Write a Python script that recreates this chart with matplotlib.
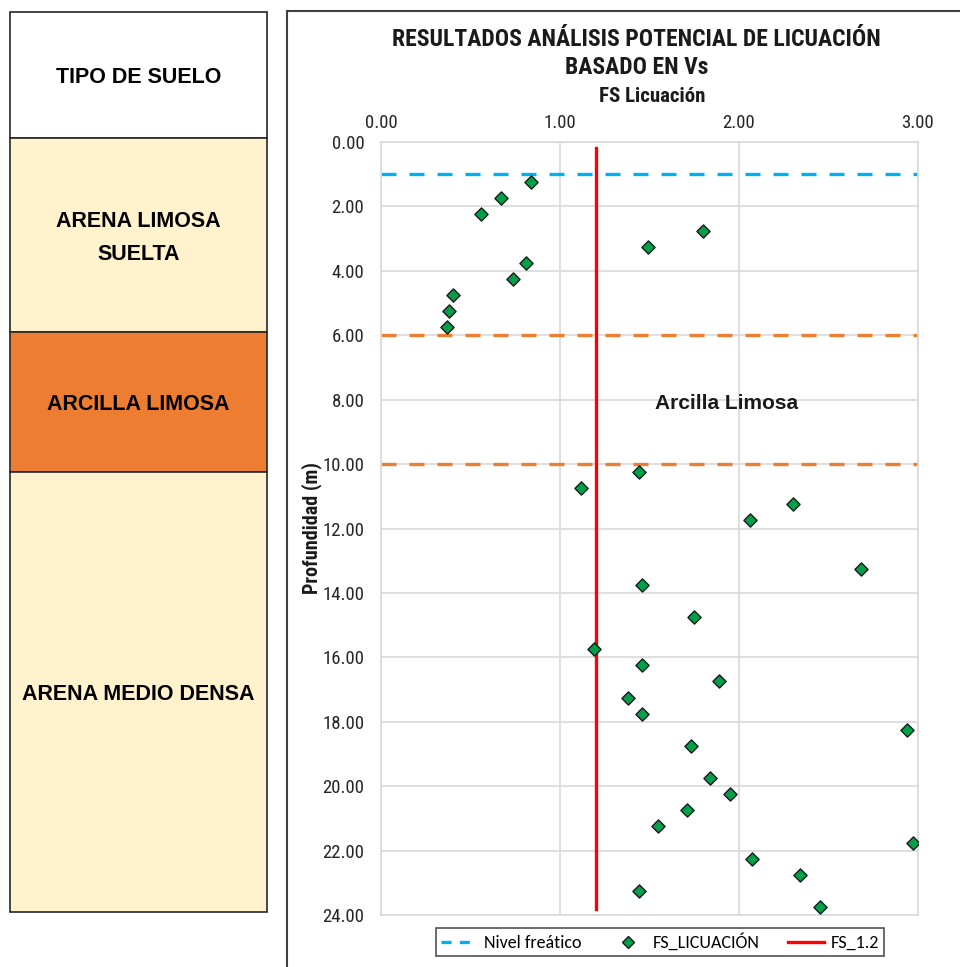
import matplotlib
matplotlib.use("Agg")
import matplotlib.pyplot as plt
from matplotlib.patches import Rectangle
from matplotlib.lines import Line2D

# --- data -------------------------------------------------------------
fs_licuacion = [0.84, 0.67, 0.56, 1.80, 1.49, 0.81, 0.74, 0.40, 0.38, 0.37,
                1.44, 1.12, 2.30, 2.06, 2.68, 1.46, 1.75, 1.19, 1.46, 1.89,
                1.38, 1.46, 2.94, 1.73, 1.84, 1.95, 1.71, 1.55, 2.97, 2.07,
                2.34, 1.44, 2.45]
profundidad = [1.25, 1.75, 2.25, 2.75, 3.25, 3.75, 4.25, 4.75, 5.25, 5.75,
               10.25, 10.75, 11.25, 11.75, 13.25, 13.75, 14.75, 15.75, 16.25, 16.75,
               17.25, 17.75, 18.25, 18.75, 19.75, 20.25, 20.75, 21.25, 21.75, 22.25,
               22.75, 23.25, 23.75]
nivel_freatico = 1.0
fs_limite = 1.2
fs_limite_prof = [0.2, 23.8]
limites_arcilla = [6.0, 10.0]
x_ticks = [0.0, 1.0, 2.0, 3.0]
y_ticks = list(range(0, 25, 2))

estratos = ["TIPO DE SUELO", "ARENA LIMOSA\nSUELTA", "ARCILLA LIMOSA", "ARENA MEDIO DENSA"]
colores_estratos = ["#FFFFFF", "#FFF2CC", "#ED7D31", "#FFF2CC"]

# --- layout -----------------------------------------------------------
W, H = 960, 967
fig = plt.figure(figsize=(W / 100, H / 100), dpi=100)
fig.patch.set_facecolor("white")

NARROW = ["Roboto Condensed", "Archivo Narrow", "Liberation Sans"]
ARIAL = ["Liberation Sans", "DejaVu Sans"]
LEG = ["Carlito", "Lato", "DejaVu Sans"]
DASH = (4.5, 3.9)

def fx(px):
    return px / W

def fy(py):
    return 1 - py / H

# soil column on the left
col_top, col_bot = 12, 912
bordes = [12, 138, 332, 472, 912]
ax0 = fig.add_axes([fx(10), fy(col_bot), fx(267 - 10), (col_bot - col_top) / H])
ax0.set_xlim(0, 1)
ax0.set_ylim(col_bot, col_top)
ax0.axis("off")
for nombre, color, y0, y1 in zip(estratos, colores_estratos, bordes[:-1], bordes[1:]):
    ax0.add_patch(Rectangle((0, y0), 1, y1 - y0, facecolor=color,
                            edgecolor="#262626", lw=1.2, clip_on=False))
    ax0.text(0.5, (y0 + y1) / 2 + 3, nombre, ha="center", va="center",
             fontsize=15.5, fontweight="bold", family=ARIAL, color="black",
             linespacing=1.8)

# frame around the chart panel
fig.add_artist(Rectangle((fx(287), -0.01), 1, fy(11) + 0.01, transform=fig.transFigure,
                         fill=False, edgecolor="#404040", lw=1.5))

# main chart
ax = fig.add_axes([fx(381), fy(915), fx(918 - 381), (915 - 142) / H])
ax.set_xlim(0, 3)
ax.set_ylim(24, 0)
ax.xaxis.tick_top()
ax.set_xticks(x_ticks)
ax.set_xticklabels([f"{v:.2f}" for v in x_ticks])
ax.set_yticks(y_ticks)
ax.set_yticklabels([f"{v:.2f}" for v in y_ticks])
ax.tick_params(length=0, labelsize=13.5, colors="#262626")
ax.tick_params(axis="y", pad=12)
ax.tick_params(axis="x", pad=7)
for lab in ax.get_xticklabels() + ax.get_yticklabels():
    lab.set_family(NARROW)
ax.grid(True, color="#D9D9D9", lw=1.2)
ax.set_axisbelow(True)
for s in ax.spines.values():
    s.set_color("#D9D9D9")
    s.set_linewidth(1.2)

ax.axhline(nivel_freatico, color="#00B0F0", lw=2.4, dashes=DASH)
for lim in limites_arcilla:
    ax.axhline(lim, color="#ED7D31", lw=2.4, dashes=DASH)
ax.plot([fs_limite, fs_limite], fs_limite_prof, color="#FF0000", lw=2.4)
ax.scatter(fs_licuacion, profundidad, marker="D", s=45, facecolor="#00A04A",
           edgecolor="#1A1A1A", linewidth=1.0, zorder=5)

ax.text(1.93, 8.12, "Arcilla Limosa", ha="center", va="center", fontsize=15,
        fontweight="bold", family=ARIAL, color="#1A1A1A")

ax.set_ylabel("Profundidad (m)", fontsize=14.5, fontweight="bold", family=NARROW,
              color="#1A1A1A", labelpad=0)

fig.text(fx(636), fy(40), "RESULTADOS ANÁLISIS POTENCIAL DE LICUACIÓN", ha="center",
         va="center", fontsize=17, fontweight="bold", family=NARROW, color="#1A1A1A")
fig.text(fx(637), fy(67), "BASADO EN Vs", ha="center", va="center", fontsize=17,
         fontweight="bold", family=NARROW, color="#1A1A1A")
fig.text(fx(652), fy(97), "FS Licuación", ha="center", va="center", fontsize=15,
         fontweight="bold", family=NARROW, color="#1A1A1A")

handles = [
    Line2D([], [], color="#00B0F0", lw=2.4, dashes=(3.0, 2.5)),
    Line2D([], [], marker="D", ls="none", markersize=6.5, markerfacecolor="#00A04A",
           markeredgecolor="#1A1A1A"),
    Line2D([], [], color="#FF0000", lw=2.4),
]
leg = fig.legend(handles, ["Nivel freático", "FS_LICUACIÓN", "FS_1.2"],
                 loc="center", bbox_to_anchor=(fx(660), fy(942)), ncol=3,
                 frameon=True, fancybox=False, edgecolor="#262626",
                 prop={"family": LEG, "size": 13}, handlelength=2.0,
                 columnspacing=1.6, borderpad=0.3, handletextpad=0.35,
                 borderaxespad=0)
leg.get_frame().set_linewidth(1.2)

fig.savefig("out.png", dpi=100, facecolor="white")
